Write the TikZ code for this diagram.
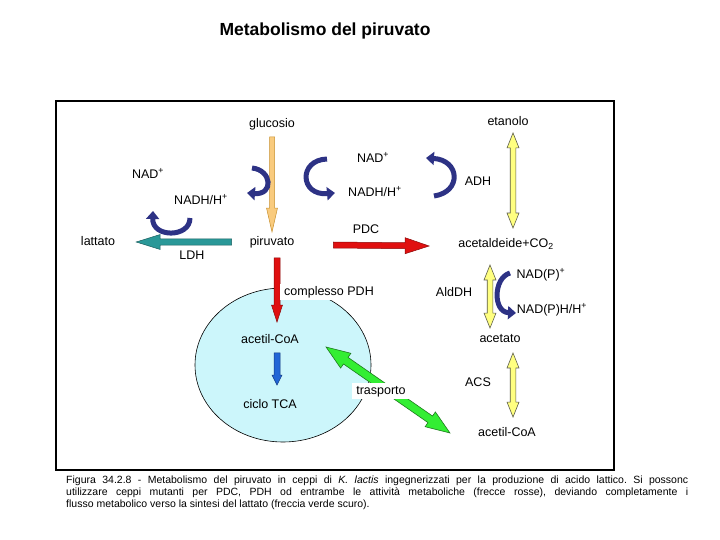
\documentclass[tikz,border=0pt]{standalone}
\usepackage{fontspec}
\setmainfont{Liberation Sans}
\usetikzlibrary{arrows.meta,shapes.geometric,calc}
\definecolor{blunotte}{HTML}{2D3285}
\definecolor{arancio}{HTML}{F9CB7E}
\definecolor{arancioscuro}{HTML}{C8902E}
\definecolor{rosso}{HTML}{E01010}
\definecolor{rossoscuro}{HTML}{8A0A0A}
\definecolor{petrolio}{HTML}{2A9898}
\definecolor{petrolioscuro}{HTML}{1A5F5F}
\definecolor{blu}{HTML}{2266D6}
\definecolor{bluscuro}{HTML}{123A80}
\definecolor{giallo}{HTML}{FFFF80}
\definecolor{grigio}{HTML}{5A5A48}
\definecolor{verde}{HTML}{33EE33}
\definecolor{verdescuro}{HTML}{1E7A1E}
\definecolor{citosol}{HTML}{CCF6FB}

% freccia a blocco: stile, mezza larghezza, mezza punta, lunghezza punta, da, a
\newcommand{\freccia}[6]{%
  \filldraw[#1] let \p1=(#5), \p2=(#6), \n1={atan2(\y2-\y1,\x2-\x1)}, \n2={veclen(\x2-\x1,\y2-\y1)} in
    [shift={(\p1)}, rotate=\n1]
    (0,-#2) -- ({\n2-#4},-#2) -- ({\n2-#4},-#3) -- (\n2,0) -- ({\n2-#4},#3) -- ({\n2-#4},#2) -- (0,#2) -- cycle;}
\newcommand{\frecciadoppia}[6]{%
  \filldraw[#1] let \p1=(#5), \p2=(#6), \n1={atan2(\y2-\y1,\x2-\x1)}, \n2={veclen(\x2-\x1,\y2-\y1)} in
    [shift={(\p1)}, rotate=\n1]
    (#4,-#2) -- ({\n2-#4},-#2) -- ({\n2-#4},-#3) -- (\n2,0) -- ({\n2-#4},#3) -- ({\n2-#4},#2)
    -- (#4,#2) -- (#4,#3) -- (0,0) -- (#4,-#3) -- cycle;}

\begin{document}
\frenchspacing
\begin{tikzpicture}[x=1pt, y=-1pt,
  font=\fontsize{12.5}{14}\selectfont,
  testo/.style={inner sep=2pt, text height=9pt, text depth=2.5pt},
  sfondo/.style={testo, fill=white, inner xsep=4pt},
  curva/.style={blunotte, line width=5pt, -{Triangle[width=13pt,length=8pt]}},
  farancio/.style={fill=arancio, draw=arancioscuro, line width=.5pt},
  frossa/.style={fill=rosso, draw=rossoscuro, line width=.5pt},
  fpetrolio/.style={fill=petrolio, draw=petrolioscuro, line width=.5pt},
  fblu/.style={fill=blu, draw=bluscuro, line width=.5pt},
  fgialla/.style={fill=giallo, draw=grigio, line width=.6pt},
  fverde/.style={fill=verde, draw=verdescuro, line width=.6pt},
  leyenda/.style={anchor=west, inner sep=0pt, font=\fontsize{10.5}{12}\selectfont}
]
  \useasboundingbox (0,0) rectangle (720,540);
  \node[font=\fontsize{17.5}{20}\selectfont\bfseries] (titolo) at (325,31) {Metabolismo del piruvato};
  \draw[line width=1.2pt] (56,101) rectangle (614,470);

  % mitocondrio
  \node[ellipse, draw, fill=citosol, minimum width=176pt, minimum height=154pt, line width=.6pt] (mito) at (283,365) {};

  % metaboliti
  \node[testo] (glu) at (272,124) {glucosio};
  \node[testo] (piru) at (272,242) {piruvato};
  \node[testo] (latt) at (98,242) {lattato};
  \node[testo] (etan) at (508,122) {etanolo};
  \node[testo] (acald) at (506,244) {acetaldeide+CO\textsubscript{2}};
  \node[testo] (acet) at (500,339) {acetato};
  \node[testo] (acoa) at (270,340) {acetil-CoA};
  \node[testo] (tca) at (270,405) {ciclo TCA};
  \node[testo] (acoab) at (507,433) {acetil-CoA};

  % cofattori ed enzimi
  \node[testo] (nada) at (148,175) {NAD\textsuperscript{+}};
  \node[testo] (nadha) at (201,201) {NADH/H\textsuperscript{+}};
  \node[testo] (nadb) at (373,159) {NAD\textsuperscript{+}};
  \node[testo] (nadhb) at (375,193) {NADH/H\textsuperscript{+}};
  \node[testo] (ldh) at (192,256) {LDH};
  \node[testo] (pdc) at (366,230) {PDC};
  \node[testo] (adh) at (478,182) {ADH};
  \node[testo] (alddh) at (454,293) {AldDH};
  \node[testo] (nadp) at (541,275) {NAD(P)\textsuperscript{+}};
  \node[testo] (nadph) at (552,310) {NAD(P)H/H\textsuperscript{+}};
  \node[testo] (acs) at (478,383) {ACS};

  % frecce a blocco
  \freccia{farancio}{2.5}{5.5}{24}{[yshift=-5pt]glu.south}{[yshift=2pt]piru.north}
  \freccia{fpetrolio}{3.2}{7.5}{24}{[xshift=-16pt]piru.west}{[xshift=19pt]latt.east}
  \freccia{frossa}{3}{8}{24}{[xshift=37pt,yshift=-3pt]piru.east}{[xshift=-27pt,yshift=-2pt]acald.west}
  \freccia{frossa}{3}{5.5}{17}{[xshift=5pt,yshift=-8pt]piru.south}{[xshift=7pt,yshift=10pt]acoa.north}
  \freccia{fblu}{3}{5}{10}{[xshift=7pt,yshift=-5pt]acoa.south}{[xshift=7pt,yshift=12pt]tca.north}
  \frecciadoppia{fgialla}{2.8}{6}{15}{[xshift=5pt,yshift=-3pt]etan.south}{[xshift=7pt,yshift=8pt]acald.north}
  \frecciadoppia{fgialla}{2.8}{6}{15}{[xshift=-16pt,yshift=-13pt]acald.south}{[xshift=-10pt,yshift=3pt]acet.north}
  \frecciadoppia{fgialla}{2.8}{6}{15}{[xshift=13pt,yshift=-6pt]acet.south}{[xshift=6pt,yshift=8pt]acoab.north}
  \frecciadoppia{fverde}{4}{9}{24}{[xshift=25pt,yshift=-7pt]acoa.east}{[xshift=-26pt]acoab.west}

  \node[sfondo] (pdh) at (329,292) {complesso PDH};
  \node[sfondo] (trasp) at (381,391) {trasporto};

  % frecce curve dei cofattori
  \coordinate (c1a) at (252,168);
  \coordinate (c1b) at (247,193);
  \draw[curva] (c1a) .. controls (272,170) and (274,195) .. (c1b);
  \coordinate (c2a) at (327,159);
  \coordinate (c2b) at (335,193);
  \draw[curva] (c2a) .. controls (298,160) and (300,196) .. (c2b);
  \coordinate (c3a) at (190,218);
  \coordinate (c3b) at (153,211);
  \draw[curva] (c3a) .. controls (190,238) and (152,238) .. (c3b);
  \coordinate (c4a) at (434,196);
  \coordinate (c4b) at (426,158);
  \draw[curva] (c4a) .. controls (462,192) and (460,160) .. (c4b);
  \coordinate (c5a) at (510,273);
  \coordinate (c5b) at (516,313);
  \draw[curva] (c5a) .. controls (493,278) and (493,312) .. (c5b);

  % didascalia
  \node[leyenda] (dida1) at (66,481) {\makebox[622pt][s]{Figura 34.2.8 - Metabolismo del piruvato in ceppi di \textit{K. lactis} ingegnerizzati per la produzione di acido lattico. Si possonc}};
  \node[leyenda] (dida2) at (66,493) {\makebox[622pt][s]{utilizzare ceppi mutanti per PDC, PDH od entrambe le attività metaboliche (frecce rosse), deviando completamente i}};
  \node[leyenda] (dida3) at (66,505) {flusso metabolico verso la sintesi del lattato (freccia verde scuro).};
\end{tikzpicture}
\end{document}
